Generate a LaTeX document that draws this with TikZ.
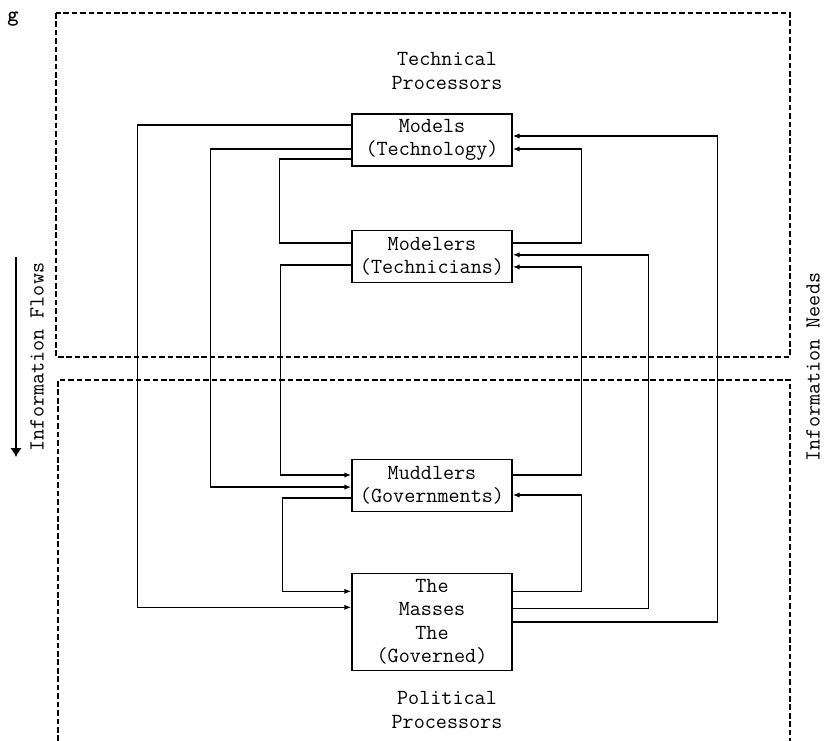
\documentclass[tikz,border=0pt]{standalone}
\usepackage{tikz}
\usetikzlibrary{arrows.meta,positioning}
\tikzset{
  flBox/.style={
    rectangle, draw=black, fill=white, line width=1pt,
    align=center, minimum width=4.0cm, minimum height=#1,
    inner sep=2pt, font=\ttfamily\fontsize{15.3}{16.5}\selectfont
  },
  flBox/.default=1.3cm,
  flText/.style={align=center, inner sep=0pt, font=\ttfamily\fontsize{15.3}{16.5}\selectfont},
  flArrow/.style={-{Latex[length=1.7mm,width=1.3mm]}, draw=black, line width=1pt},
  flLine/.style={draw=black, line width=1pt},
  flSide/.style={-{Latex[length=2.2mm,width=2.8mm]}, draw=black, line width=1pt},
  flFrame/.style={draw=black, dash pattern=on 4pt off 2pt, line width=0.9pt}
}
\begin{document}
\begin{tikzpicture}[x=0.025cm, y=-0.025cm]
  \useasboundingbox (0,0) rectangle (833,741);

  % the two processor regions
  \draw[flFrame] (56,13) rectangle (790,357);
  \draw[flFrame] (58,741) -- (58,380) -- (790,380) -- (790,741);

  \node[font=\ttfamily\bfseries\fontsize{15.3}{16.5}\selectfont] (fig) at (13,19) {g};
  \node[flText] (tech) at (447,71) {Technical\\Processors};
  \node[flText] (pol) at (447,710) {Political\\Processors};

  \node[flBox] (models) at (432,140) {Models\\(Technology)};
  \node[flBox, below=1.575cm of models] (modelers) {Modelers\\(Technicians)};
  \node[flBox, below=4.39cm of modelers] (muddlers) {Muddlers\\(Governments)};
  \node[flBox=2.425cm, below=1.51cm of muddlers] (masses) {The\\Masses\\The\\(Governed)};

  % side labels
  \node[flText, rotate=90] (flows) at (37,357) {Information Flows};
  \coordinate (flowtop) at (16,257);
  \coordinate (flowbot) at (16,457);
  \draw[flSide] (flowtop) -- (flowbot);
  \node[flText, rotate=90] (needs) at (813,367) {Information Needs};

  % left side: downward flows
  \draw[flArrow] ([yshift=0.375cm]models.west) -- ++(-214,0) |- ([yshift=0.3625cm]masses.west);
  \draw[flArrow] ([yshift=-0.225cm]models.west) -- ++(-141,0) |- ([yshift=-0.04cm]muddlers.west);
  \draw[flLine] ([yshift=-0.475cm]models.west) -- ++(-72,0) |- ([yshift=0.3375cm]modelers.west);
  \draw[flArrow] ([yshift=-0.2125cm]modelers.west) -- ++(-71,0) |- ([yshift=0.2625cm]muddlers.west);
  \draw[flArrow] ([yshift=-0.3125cm]muddlers.west) -- ++(-69,0) |- ([yshift=0.7625cm]masses.west);

  % right side: upward needs
  \draw[flArrow] (masses.east) -- ++(205,0) |- ([yshift=0.1cm]models.east);
  \draw[flArrow] ([yshift=0.3375cm]modelers.east) -- ++(69,0) |- ([yshift=-0.225cm]models.east);
  \draw[flArrow] ([yshift=0.3375cm]masses.east) -- ++(136,0) |- ([yshift=0.04cm]modelers.east);
  \draw[flArrow] ([yshift=0.2625cm]muddlers.east) -- ++(69,0) |- ([yshift=-0.2625cm]modelers.east);
  \draw[flArrow] ([yshift=0.7625cm]masses.east) -- ++(69,0) |- ([yshift=-0.2375cm]muddlers.east);
\end{tikzpicture}
\end{document}
